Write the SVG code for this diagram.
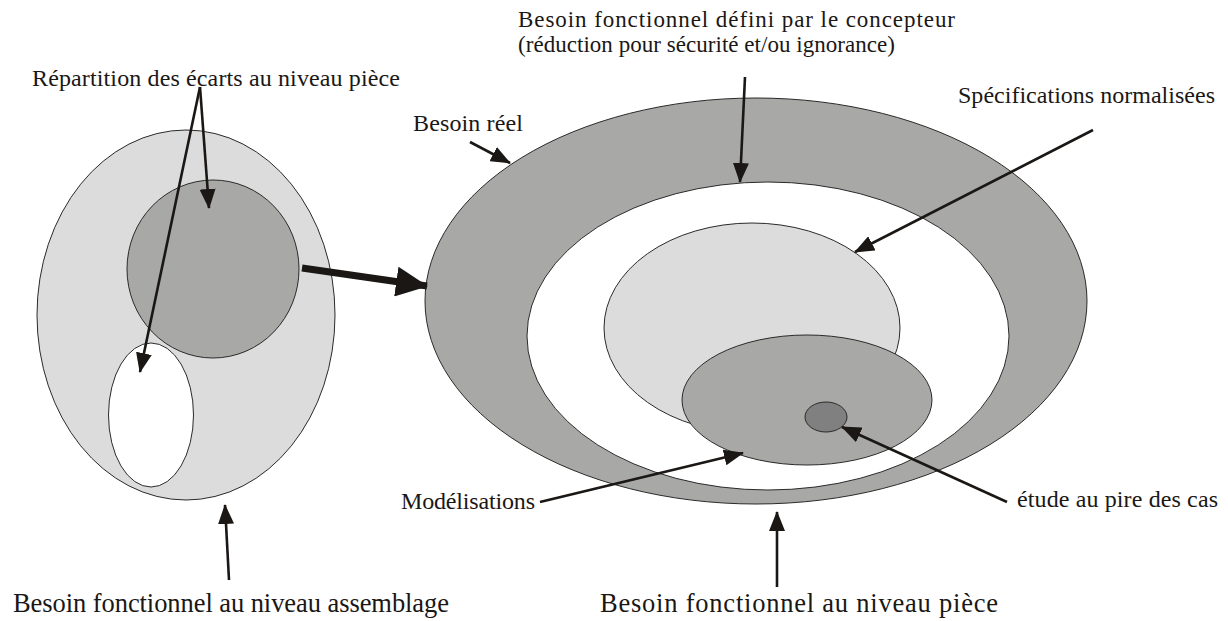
<svg xmlns="http://www.w3.org/2000/svg" width="1228" height="621" viewBox="0 0 1228 621">
<style>
.t{font-family:"Liberation Serif","Times New Roman",Times,serif;font-size:24px;fill:#1a1715}
.s{font-size:23px}
.b{font-size:26.5px}
.e{stroke:#2a2a2a;stroke-width:1}
.a{stroke:#1a1715;stroke-width:2.6;fill:none;marker-end:url(#h)}
</style>
<defs>
<marker id="h" markerUnits="userSpaceOnUse" markerWidth="20" markerHeight="16" viewBox="0 0 20 16" refX="19" refY="8" orient="auto"><path d="M0,0 L20,8 L0,16 Z" fill="#1a1715"/></marker>
<marker id="H" markerUnits="userSpaceOnUse" markerWidth="32" markerHeight="30" viewBox="0 0 32 30" refX="31" refY="15" orient="auto"><path d="M0,0 L32,15 L0,30 Z" fill="#1a1715"/></marker>
</defs>
<rect width="1228" height="621" fill="#fff"/>
<g id="assemblage">
<ellipse class="e" cx="186" cy="315" rx="149" ry="185" fill="#dcdcdc"/>
<ellipse id="piece-ecarts" class="e" cx="213" cy="269" rx="86" ry="89" fill="#a8a8a6"/>
<ellipse id="piece-blanc" class="e" cx="151" cy="415" rx="42.5" ry="72" fill="#fff"/>
</g>
<g id="piece">
<ellipse id="besoin-reel" class="e" cx="756" cy="301" rx="331" ry="203" fill="#a8a8a6"/>
<ellipse id="besoin-concepteur" class="e" cx="768" cy="336" rx="241" ry="154" fill="#fff"/>
<ellipse id="specifications" class="e" cx="752" cy="328" rx="148" ry="105" fill="#dcdcdc"/>
<ellipse id="modelisations" class="e" cx="807" cy="400" rx="125" ry="65" fill="#a8a8a6"/>
<ellipse id="pire-cas" class="e" cx="826" cy="417" rx="21" ry="15" fill="#808080"/>
</g>
<g id="connectors">
<line class="a" x1="200" y1="87" x2="209" y2="208"/>
<line class="a" x1="200" y1="87" x2="140" y2="372"/>
<line x1="302" y1="268" x2="427" y2="286" stroke="#1a1715" stroke-width="7" marker-end="url(#H)"/>
<line class="a" x1="229" y1="580" x2="225" y2="505"/>
<line class="a" x1="470" y1="142" x2="510" y2="163"/>
<line class="a" x1="745" y1="77" x2="740" y2="182"/>
<line class="a" x1="1093" y1="130" x2="855" y2="252"/>
<line class="a" x1="540" y1="502" x2="743" y2="453"/>
<line class="a" x1="1007" y1="502" x2="842" y2="427"/>
<line class="a" x1="777" y1="587" x2="777" y2="512"/>
</g>
<g id="labels">
<text class="t" x="32" y="86" textLength="368">Répartition des écarts au niveau pièce</text>
<text class="t s" x="518" y="27" textLength="437">Besoin fonctionnel défini par le concepteur</text>
<text class="t s" x="518" y="52" textLength="377">(réduction pour sécurité et/ou ignorance)</text>
<text class="t" x="413" y="131" textLength="110">Besoin réel</text>
<text class="t" x="958" y="103" textLength="257">Spécifications normalisées</text>
<text class="t" x="401" y="509" textLength="134">Modélisations</text>
<text class="t" x="1017" y="507" textLength="201">étude au pire des cas</text>
<text class="t b" x="13" y="612" textLength="436">Besoin fonctionnel au niveau assemblage</text>
<text class="t b" x="600" y="612" textLength="398">Besoin fonctionnel au niveau pièce</text>
</g>
</svg>
